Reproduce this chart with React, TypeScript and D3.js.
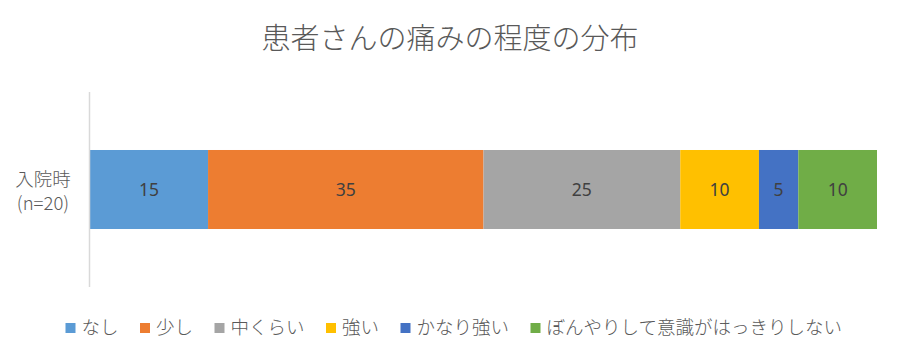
import React from "react";
import * as d3 from "d3";

const title = "患者さんの痛みの程度の分布";
const categoryLines = ["入院時", "(n=20)"];
const seriesNames = ["なし", "少し", "中くらい", "強い", "かなり強い", "ぼんやりして意識がはっきりしない"];
const seriesValues = [15, 35, 25, 10, 5, 10];
const seriesColors = ["#5B9BD5", "#ED7D31", "#A5A5A5", "#FFC000", "#4472C4", "#70AD47"];

const W = 900;
const H = 359;
const CJK = "'Noto Sans CJK JP', 'Noto Sans', sans-serif";

export default function App() {
  const x = d3.scaleLinear().domain([0, 100]).range([90, 877]);
  const y = d3.scaleBand().domain(["入院時"]).range([92, 287]).paddingInner(0).paddingOuter(0.734);
  const stacked = d3.cumsum(seriesValues);
  const starts = stacked.map((s, i) => s - seriesValues[i]);
  const by = y("入院時") as number;
  const bh = y.bandwidth();
  const cy = by + bh / 2;

  // legend layout
  const lfs = 18.5;
  const sq = 10;
  const sqGap = 6;
  const itemGap = 21.5;
  const widths = seriesNames.map((n) => sq + sqGap + n.length * lfs);
  const total = d3.sum(widths) + itemGap * (seriesNames.length - 1);
  let lx = 454 - total / 2;
  const legendItems = seriesNames.map((n, i) => {
    const item = { name: n, x: lx, color: seriesColors[i] };
    lx += widths[i] + itemGap;
    return item;
  });

  return (
    <svg width={W} height={H} style={{ position: "absolute", left: 0, top: 0, background: "#fff" }}>
      <rect x={0} y={0} width={W} height={H} fill="#fff" />
      <text x={450} y={49} textAnchor="middle" fontFamily={CJK} fontSize={29} fontWeight={300} fill="#595959">
        {title}
      </text>
      {seriesValues.map((v, i) => (
        <rect key={i} x={x(starts[i])} y={by} width={x(starts[i] + v) - x(starts[i])} height={bh} fill={seriesColors[i]} />
      ))}
      {seriesValues.map((v, i) => (
        <text
          key={"l" + i}
          x={(x(starts[i]) + x(starts[i] + v)) / 2}
          y={cy + 6.5}
          textAnchor="middle"
          fontFamily="'Noto Sans', sans-serif"
          fontSize={17.5}
          fill="#404040"
        >
          {v}
        </text>
      ))}
      <line x1={89.5} x2={89.5} y1={92} y2={287} stroke="#D9D9D9" strokeWidth={1.5} />
      {categoryLines.map((t, i) => (
        <text key={t} x={43} y={186 + i * 24} textAnchor="middle" fontFamily={CJK} fontSize={18.5} fontWeight={300} fill="#595959">
          {t}
        </text>
      ))}
      {legendItems.map((it) => (
        <g key={it.name}>
          <rect x={it.x} y={323} width={sq} height={sq} fill={it.color} />
          <text x={it.x + sq + sqGap} y={334} fontFamily={CJK} fontSize={lfs} fontWeight={300} fill="#595959">
            {it.name}
          </text>
        </g>
      ))}
    </svg>
  );
}
